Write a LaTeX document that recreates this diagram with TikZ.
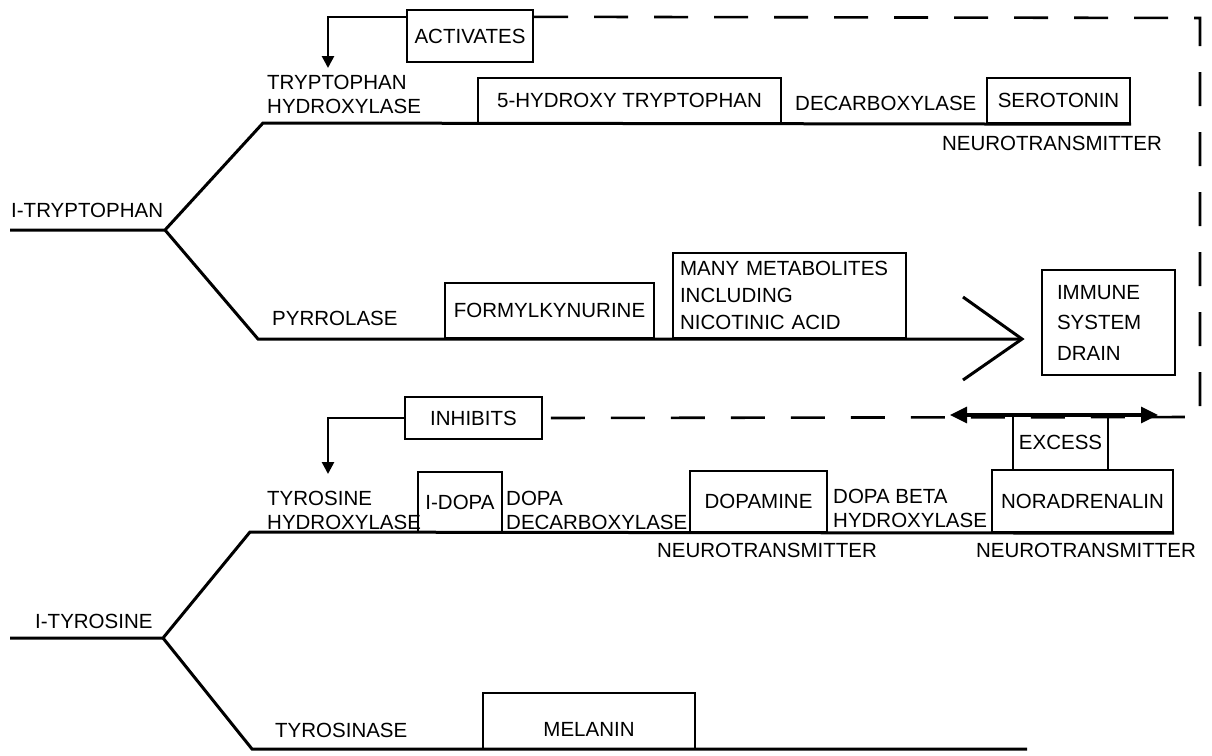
\documentclass[tikz,border=0pt]{standalone}
\usepackage{fontspec}
\setmainfont{Liberation Sans}
\usetikzlibrary{arrows.meta,calc}
\begin{document}
\begin{tikzpicture}[x=1pt,y=-1pt,
  every node/.style={font=\fontsize{20.5}{24}\selectfont, inner sep=0pt},
  box/.style={draw, line width=2.4pt, rectangle},
  mainline/.style={line width=3pt, line join=miter},
  arrowline/.style={line width=2.6pt, -{Triangle[length=12pt,width=12pt]}},
  dashline/.style={line width=2.6pt, dash pattern=on 34pt off 26pt},
  dblarrow/.style={line width=3.2pt, {Triangle[length=17pt,width=16pt]}-{Triangle[length=17pt,width=16pt]}},
  lbl/.style={anchor=west, align=left}
]
\useasboundingbox (0,0) rectangle (1212,755);

% ---- boxes ----
\node[box, minimum width=126pt, minimum height=52pt] (act) at (470,36) {ACTIVATES};
\node[box, minimum width=303pt, minimum height=45pt] (hyd) at (629.5,100.5) {5-HYDROXY TRYPTOPHAN};
\node[box, minimum width=143pt, minimum height=45pt] (ser) at (1058.5,100.5) {SEROTONIN};
\node[box, minimum width=209pt, minimum height=55pt] (form) at (549.5,310.5) {FORMYLKYNURINE};
\node[box, minimum width=233pt, minimum height=85pt, text width=219pt, inner xsep=7pt, align=left,
      font=\fontsize{20.5}{27}\selectfont] (many) at (789.5,295.5) {MANY METABOLITES\\INCLUDING\\NICOTINIC ACID};
\node[box, minimum width=133pt, minimum height=105pt, text width=103pt, inner xsep=15pt, align=left,
      font=\fontsize{20.5}{30.5}\selectfont] (imm) at (1108.5,322.5) {IMMUNE\\SYSTEM\\DRAIN};
\node[box, minimum width=137pt, minimum height=42pt] (inh) at (473.5,418) {INHIBITS};
\node[box, minimum width=84pt, minimum height=60pt] (ldopa) at (460,502) {I-DOPA};
\node[box, minimum width=137pt, minimum height=61pt] (dop) at (758.5,501.5) {DOPAMINE};
\node[box, minimum width=181pt, minimum height=62pt] (nor) at (1082.5,501) {NORADRENALIN};
\node[box, minimum width=95pt, minimum height=55pt] (exc) at (1060.5,442.5) {EXCESS};
\node[box, minimum width=212pt, minimum height=56pt, text height=31pt] (mel) at (589,721) {MELANIN};

% ---- labels ----
\node[lbl] (ltrp) at (11,210) {I-TRYPTOPHAN};
\node[lbl] (tph) at (267,94) {TRYPTOPHAN\\HYDROXYLASE};
\node[lbl] (dec) at (795,103) {DECARBOXYLASE};
\node (nt1) at (1052,143) {NEUROTRANSMITTER};
\node[lbl] (pyr) at (272,318) {PYRROLASE};
\node[lbl] (th) at (267,510) {TYROSINE\\HYDROXYLASE};
\node[lbl] (ddc) at (506,510) {DOPA\\DECARBOXYLASE};
\node[lbl] (dbh) at (833,508) {DOPA BETA\\HYDROXYLASE};
\node (nt2) at (767,550) {NEUROTRANSMITTER};
\node (nt3) at (1086,550) {NEUROTRANSMITTER};
\node[lbl] (ltyr) at (35,621) {I-TYROSINE};
\node[lbl] (tyrase) at (275,730) {TYROSINASE};

% ---- tryptophan pathway ----
\coordinate (trpA) at (10,230);
\coordinate (trpJ) at (165,230);
\coordinate (trpU) at (263,123);
\coordinate (trpD) at (258,339);
\coordinate (chevT) at (1022,339);
\coordinate (chevU) at (963,297);
\coordinate (chevL) at (963,380);
\draw[mainline] (trpA) -- (trpJ) -- (trpU) -- (ser.south east);
\draw[mainline] (trpJ) -- (trpD) -- (chevT);
\draw[mainline] (chevU) -- (chevT) -- (chevL);

% ---- tyrosine pathway ----
\coordinate (tyrA) at (10,638);
\coordinate (tyrJ) at (163,638);
\coordinate (tyrU) at (250,532);
\coordinate (tyrD) at (252,749);
\coordinate (tyrE) at (1027,749);
\draw[mainline] (tyrA) -- (tyrJ) -- (tyrU) -- (nor.south east);
\draw[mainline] (tyrJ) -- (tyrD) -- (tyrE);

% ---- control connectors ----
\coordinate (actT) at (328,68);
\draw[arrowline] ([yshift=-8pt]act.north west) -| (actT);
\coordinate (inhT) at (328,474);
\draw[arrowline] (inh.west) -| (inhT);

\coordinate (fbA) at (1200,18);
\coordinate (fbB) at (1200,417);
\draw[dashline] ([yshift=-8pt]act.north east) -- (fbA) -- (fbB) -- (inh.east);

\coordinate (exL) at (950,415);
\coordinate (exR) at (1158,415);
\draw[dblarrow] (exL) -- (exR);
\end{tikzpicture}
\end{document}
